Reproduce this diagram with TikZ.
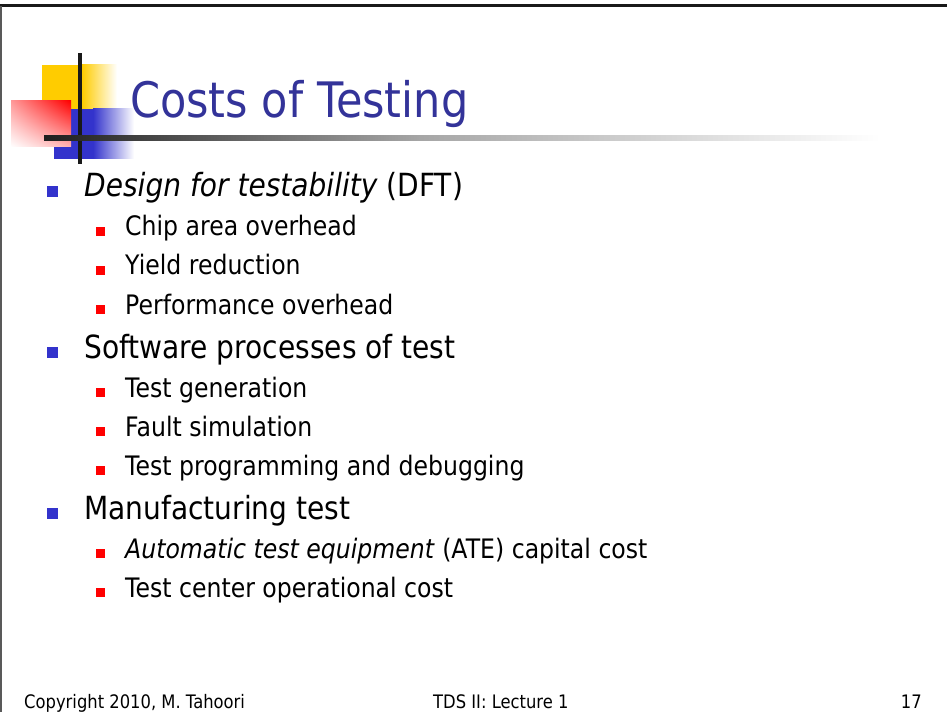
\documentclass[tikz,border=0pt]{standalone}
\usepackage{fontspec}
\usetikzlibrary{shadings}
\setmainfont{DejaVu Sans}[FakeStretch=0.88]
\definecolor{titleblue}{HTML}{333399}
\definecolor{bulblue}{HTML}{3333CC}
\definecolor{logoyellow}{HTML}{FFCC00}
\definecolor{logoblue}{HTML}{3333CC}
\tikzset{
  titletext/.style={anchor=base west, inner sep=0pt, text=titleblue, font=\fontsize{48.9}{52}\selectfont},
  lvlone/.style={anchor=base west, inner sep=0pt, font=\fontsize{31.9}{34}\selectfont},
  lvltwo/.style={anchor=base west, inner sep=0pt, font=\fontsize{26.8}{29}\selectfont},
  bulone/.style={fill=bulblue, inner sep=0pt, minimum size=11pt, anchor=south west},
  bultwo/.style={fill=red, inner sep=0pt, minimum size=8.5pt, anchor=south west},
  foottext/.style={anchor=base west, inner sep=0pt, font=\fontsize{18.6}{20}\selectfont},
}
\begin{document}
\begin{tikzpicture}[x=1pt, y=-1pt]
% page
\fill[white] (0,0) rectangle (947,719);
\useasboundingbox (0,0) rectangle (947,719);
% frame lines
\fill[black!90] (0,4) rectangle (947,7);
\fill[black!65] (0,6) rectangle (1.5,712);

% logo: coloured squares and cross bars
\fill[logoyellow] (42,65) rectangle (82.5,109);
\shade[left color=logoyellow, right color=white] (82,65) rectangle (117,109);
\fill[logoblue] (54,109) rectangle (93.5,159);
\shade[left color=logoblue, right color=white] (93,109) rectangle (134,159);
\shade[upper left=red!40, upper right=red, lower right=red!30, lower left=white] (11,101) rectangle (71,147);
\fill[black!90] (78,53) rectangle (82,164);
\shade[left color=black!88, right color=black!35] (44,136) rectangle (420,141);
\shade[left color=black!35, right color=white] (419.5,136) rectangle (880,141);

% title
\node[titletext] (title) at (130,118) {Costs of Testing};

% first group
\node[bulone] (b1) at (47,197) {};
\node[lvlone] (t1) at (84,197) {\textit{Design for testability} (DFT)};
\node[bultwo] (b11) at (96,236) {};
\node[lvltwo] (t11) at (125,236) {Chip area overhead};
\node[bultwo] (b12) at (96,275) {};
\node[lvltwo] (t12) at (125,275) {Yield reduction};
\node[bultwo] (b13) at (96,314) {};
\node[lvltwo] (t13) at (125,314) {Performance overhead};

% second group
\node[bulone] (b2) at (47,358) {};
\node[lvlone] (t2) at (84,358) {Software processes of test};
\node[bultwo] (b21) at (96,397) {};
\node[lvltwo] (t21) at (125,397) {Test generation};
\node[bultwo] (b22) at (96,436) {};
\node[lvltwo] (t22) at (125,436) {Fault simulation};
\node[bultwo] (b23) at (96,475) {};
\node[lvltwo] (t23) at (125,475) {Test programming and debugging};

% third group
\node[bulone] (b3) at (47,519) {};
\node[lvlone] (t3) at (84,519) {Manufacturing test};
\node[bultwo] (b31) at (96,558) {};
\node[lvltwo] (t31) at (125,558) {\textit{Automatic test equipment} (ATE) capital cost};
\node[bultwo] (b32) at (96,597) {};
\node[lvltwo] (t32) at (125,597) {Test center operational cost};

% footer
\node[foottext] (copy) at (24,708) {Copyright 2010, M. Tahoori};
\node[foottext] (lect) at (433,708) {TDS II: Lecture 1};
\node[foottext, anchor=base east] (page) at (922,708) {17};
\end{tikzpicture}
\end{document}
